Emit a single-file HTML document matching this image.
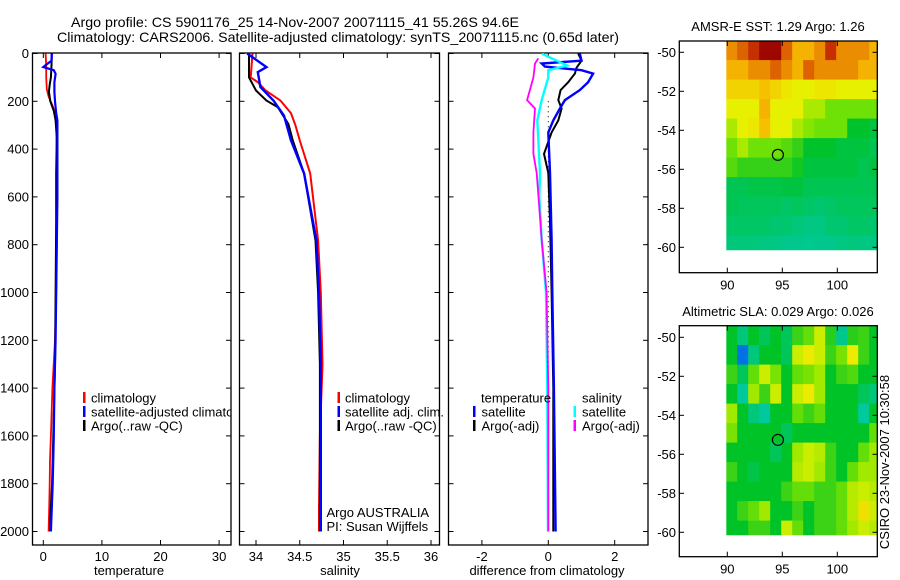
<!DOCTYPE html>
<html><head><meta charset="utf-8"><style>
html,body{margin:0;padding:0;background:#fff;}
svg{display:block;font-family:"Liberation Sans",sans-serif;}
text{font-size:13px;fill:#000;}
</style></head><body>
<svg id="fig" width="900" height="580" viewBox="0 0 900 580" xmlns="http://www.w3.org/2000/svg">
<text x="71" y="27" style="font-size:14px" textLength="448" lengthAdjust="spacingAndGlyphs">Argo profile: CS 5901176_25 14-Nov-2007 20071115_41 55.26S 94.6E</text>
<text x="57" y="42" style="font-size:14px" textLength="562" lengthAdjust="spacingAndGlyphs">Climatology: CARS2006. Satellite-adjusted climatology: synTS_20071115.nc (0.65d later)</text>
<text x="778" y="31" text-anchor="middle">AMSR-E SST: 1.29 Argo: 1.26</text>
<text x="778" y="316" text-anchor="middle">Altimetric SLA: 0.029 Argo: 0.026</text>
<text transform="translate(889,462) rotate(-90)" text-anchor="middle">CSIRO 23-Nov-2007 10:30:58</text>
<g id="plots"></g>
</svg>
<script>
// ---- profile data (depth in dbar) ----
const tClimD=[0,50,100,150,180,220,250,300,400,600,800,1000,1200,1400,1600,1700,1800,1900,2000];
const tClim=[0.4,0.5,0.5,0.6,0.9,1.6,2.0,2.2,2.3,2.3,2.3,2.2,2.0,1.55,1.3,1.15,1.1,1.0,0.9];
const tSatD=[0,30,45,57,70,85,120,160,200,250,280,400,600,800,1000,1200,1400,1600,1800,2000];
const tSat=[1.45,1.4,0.6,0.0,1.8,2.1,1.9,1.9,2.0,2.2,2.4,2.4,2.4,2.3,2.2,2.1,1.9,1.8,1.6,1.3];
const tArgoD=[0,50,100,130,160,200,240,280,350,500,700,1000,1300,1600,1800,1900,1950,2000];
const tArgo=[1.45,1.4,1.3,1.1,0.95,1.2,1.8,2.1,2.3,2.2,2.2,2.1,2.0,1.7,1.5,1.3,1.2,1.2];
const sClimD=[0,50,100,120,155,197,250,300,364,502,782,1000,1300,1600,1900,2000];
const sClim=[33.96,33.95,33.94,34.02,34.11,34.28,34.4,34.45,34.5,34.62,34.71,34.74,34.76,34.73,34.72,34.72];
const sSatD=[0,57,78,140,197,260,364,502,782,1000,1300,1600,2000];
const sSat=[33.9,34.12,34.02,34.05,34.2,34.32,34.4,34.55,34.69,34.72,34.74,34.74,34.74];
const sArgoD=[0,50,100,155,197,225,295,364,502,782,1000,1300,1600,2000];
const sArgo=[33.92,33.92,33.92,34.0,34.12,34.25,34.37,34.42,34.55,34.68,34.71,34.73,34.73,34.73];
const dTSatD=[0,30,42,55,70,84,120,153,195,230,280,330,500,780,1000,1400,2000];
const dTSat=[0.95,1.0,-0.2,-0.1,1.0,1.35,1.2,0.95,0.5,0.35,0.15,0.0,0.05,0.1,0.12,0.17,0.22];
const dTArgoD=[0,30,60,84,120,153,195,230,280,330,420,500,700,1000,1400,2000];
const dTArgo=[0.9,1.0,0.85,0.8,0.6,0.37,0.3,0.4,0.3,0.1,-0.13,0.0,0.05,0.1,0.15,0.15];
const dSSatD=[0,30,50,70,100,195,280,500,600,780,1000,1400,2000];
const dSSat=[-0.2,0.25,0.57,0.0,0.0,-0.2,-0.33,-0.25,-0.27,-0.2,-0.07,-0.03,-0.01];
const dSArgoD=[20,42,100,195,230,330,420,500,780,1000,1400,2000];
const dSArgo=[-0.3,-0.4,-0.45,-0.64,-0.4,-0.45,-0.45,-0.35,-0.2,-0.05,0.0,0.0];
const depthTicks=[0,200,400,600,800,1000,1200,1400,1600,1800,2000];
const tTicks=[0,10,20,30];
const sTicks=[34,34.5,35,35.5,36];
const dTicks=[-2,0,2];
// ---- map data (rows from -49.4 southward, 1 deg; cols from 90E) ----
const sstGrid=[
[4.5,5,5.5,6,6,5,4,4,4.5,5.5,4.5,4.5,4.5,4],
[4,4,4.5,4.5,5,4.5,4,5,4.5,4.5,4.5,4.5,4,4],
[3.5,3.5,3.5,3.8,3.5,3.2,3,3,3.2,3.2,3,3,3,3],
[3,3,3,4,3,3,3,2.5,2.5,2,2,2,2,2],
[2.5,3,3.2,3.8,3,3,2.5,2.2,2,2,2,1,1,0.8],
[2,2.5,2,2,2,1.8,1.5,1,1,1,0.8,0.8,0.8,0.6],
[1.8,1.5,1.5,1.5,1.5,1.5,1.2,0.8,0.8,0.8,0.8,0.8,0.6,0.8],
[0.6,0.6,0.7,0.7,0.7,0.8,0.8,0.6,0.6,0.6,0.6,0.6,0.6,0.6],
[0.6,0.5,0.5,0.5,0.5,0.4,0.5,0.4,0.3,0.4,0.5,0.5,0.5,0.5],
[0.4,0.4,0.4,0.4,0.3,0.3,0.2,0.1,0.1,0.3,0.3,0.4,0.4,0.3],
[0.2,0.2,0.2,0.1,0.1,0,0,-0.1,0,0,0.1,0.2,0.1,0.1]];
const slaGrid=[
[0,-0.5,0,-0.3,0,-0.3,0.3,0.5,1.0,0.2,-0.6,0.2,0.3,0],
[0,-2,-0.5,0,0,-0.3,1.0,1.2,1.0,0.3,0.6,1.2,0.3,0],
[0.3,-0.3,0.5,1.0,0.6,0,0.5,0.6,0.8,0,0.3,0.4,0,0],
[0,-0.8,0.8,0.3,1.0,0,1.0,1.2,0.8,0,0,0,-0.3,-0.5],
[0.8,0,-0.5,-0.8,0,0,0.5,0.3,0.5,0,0,0,-0.8,0],
[0.6,0,0,0,0,-0.3,0,0,0,0,0,0,0,0.5],
[0,0,0,0,-0.3,0,0.8,1.0,0.9,0.3,0,0,0.5,0.8],
[0.3,0,-0.2,0,0,0,0.9,1.0,0.8,0.3,0,0.5,0.8,0.8],
[0,0,0,0,0,0.3,0.5,0.5,0.3,0.3,0.5,0.9,1.0,0.9],
[0,0.3,0.5,0.8,0,0,0.3,0,0.3,0.3,0.5,0.9,1.3,1.0],
[0,0,0.3,0.3,0,1.0,0.5,0,0.3,0.3,0.5,0.8,1.0,0.9]];
const latTicks=[-50,-52,-54,-56,-58,-60];
const lonTicks=[90,95,100];
const argoLon=94.6, argoLat=-55.26;

const NS='http://www.w3.org/2000/svg';
const root=document.getElementById('plots');
function mk(tag,attrs,parent){const e=document.createElementNS(NS,tag);for(const k in attrs)e.setAttribute(k,attrs[k]);(parent||root).appendChild(e);return e;}
function txt(x,y,s,anchor,parent){const e=mk('text',{x:x,y:y,'text-anchor':anchor||'start'},parent);e.textContent=s;return e;}

const TOP=53, BOT=545;
function yD(d){return 53.5+d*0.239;}
const panels=[
 {name:'temperature',x0:32.5,x1:231,f:v=>43.3+v*5.86,ticks:tTicks,lbl:'temperature',lx:129},
 {name:'salinity',x0:239.5,x1:439.5,f:v=>256+(v-34)*87.5,ticks:sTicks,lbl:'salinity',lx:340},
 {name:'difference',x0:448.5,x1:648,f:v=>548.3+v*33.2,ticks:dTicks,lbl:'difference from climatology',lx:547}
];
panels.forEach((p,i)=>{
  const g=mk('g',{});
  
  
  const cid='clip'+i;
  const cp=mk('clipPath',{id:cid},g);mk('rect',{x:p.x0,y:TOP,width:p.x1-p.x0,height:BOT-TOP},cp);
  const frame=mk('rect',{x:p.x0,y:TOP,width:p.x1-p.x0,height:BOT-TOP,fill:'none',stroke:'#000','stroke-width':1.3},g);
  
  
  depthTicks.forEach(d=>{
    const y=yD(d);
    mk('line',{x1:p.x0,x2:p.x0+5,y1:y,y2:y,stroke:'#000'},g);
    mk('line',{x1:p.x1-5,x2:p.x1,y1:y,y2:y,stroke:'#000'},g);
    if(i===0){const t=txt(29,y+4.5,String(d),'end',g);
      
      }
  });
  p.ticks.forEach(v=>{
    const x=p.f(v);
    mk('line',{x1:x,x2:x,y1:BOT,y2:BOT-5,stroke:'#000'},g);
    mk('line',{x1:x,x2:x,y1:TOP,y2:TOP+5,stroke:'#000'},g);
    const t=txt(x,561,String(v),'middle',g);
    
    
  });
  const xl=txt(p.lx,575,p.lbl,'middle',g);
  
  
  p.g=g;p.clip=cid;
});
function line(p,D,V,color,w,name){
  const pts=D.map((d,k)=>p.f(V[k]).toFixed(1)+','+yD(d).toFixed(1)).join(' ');
  const e=mk('polyline',{points:pts,fill:'none',stroke:color,'stroke-width':w,'clip-path':'url(#'+p.clip+')'},p.g);
  
  
}
const [P1,P2,P3]=panels;
line(P1,tClimD,tClim,'#f00',1.8,'temperature-climatology-line');
line(P1,tArgoD,tArgo,'#000',2,'temperature-argo-line');
line(P1,tSatD,tSat,'#00f',2.2,'temperature-satellite-line');
line(P2,sClimD,sClim,'#f00',2,'salinity-climatology-line');
line(P2,sArgoD,sArgo,'#000',2,'salinity-argo-line');
line(P2,sSatD,sSat,'#00f',2.4,'salinity-satellite-line');
const zl=mk('line',{x1:P3.f(0),x2:P3.f(0),y1:yD(200),y2:yD(2000),stroke:'#000','stroke-width':1,'stroke-dasharray':'1 4'},P3.g);


line(P3,dTArgoD,dTArgo,'#000',2,'temp-diff-argo-line');
line(P3,dTSatD,dTSat,'#00f',2.4,'temp-diff-satellite-line');
line(P3,dSSatD,dSSat,'#0ff',2.4,'sal-diff-satellite-line');
line(P3,dSArgoD,dSArgo,'#f0f',1.8,'sal-diff-argo-line');

function legendRow(g,bx,tx,y,color,label,name,clip){
  const b=mk('rect',{x:bx,y:y-6,width:2.5,height:11,fill:color},g);
  
  
  const t=txt(tx,y+4.5,label,'start',g);
  if(clip)t.setAttribute('clip-path','url(#'+clip+')');
  
  
}
legendRow(P1.g,83,91,398,'#f00','climatology','legend-climatology');
legendRow(P1.g,83,91,412,'#00f','satellite-adjusted climatology','legend-satellite-adjusted',P1.clip);
legendRow(P1.g,83,91,426,'#000','Argo(..raw -QC)','legend-argo');
legendRow(P2.g,337.5,345,398,'#f00','climatology','legend-climatology');
legendRow(P2.g,337.5,345,412,'#00f','satellite adj. clim.','legend-satellite-adj');
legendRow(P2.g,337.5,345,426,'#000','Argo(..raw -QC)','legend-argo');
let h1=txt(481,402.5,'temperature','start',P3.g);


let h2=txt(582,402.5,'salinity','start',P3.g);


legendRow(P3.g,473,481.5,412,'#00f','satellite','legend-temp-satellite');
legendRow(P3.g,473,481.5,426,'#000','Argo(-adj)','legend-temp-argo');
legendRow(P3.g,573.5,582,412,'#0ff','satellite','legend-sal-satellite');
legendRow(P3.g,573.5,582,426,'#f0f','Argo(-adj)','legend-sal-argo');
let a1=txt(326.5,517,'Argo AUSTRALIA','start',P2.g);


let a2=txt(326.5,531,'PI: Susan Wijffels','start',P2.g);



// ---- maps ----
const stops=[[0,[0,100,230]],[0.15,[0,205,205]],[0.3,[0,200,140]],[0.42,[0,195,40]],[0.55,[130,230,0]],[0.65,[235,240,0]],[0.75,[245,185,0]],[0.85,[230,120,0]],[0.93,[200,50,0]],[1,[150,0,0]]];
function cmap(t){t=Math.max(0,Math.min(1,t));for(let k=1;k<stops.length;k++){if(t<=stops[k][0]){const a=stops[k-1],b=stops[k];const u=(t-a[0])/(b[0]-a[0]);const c=a[1].map((v,j)=>Math.round(v+(b[1][j]-v)*u));return 'rgb('+c.join(',')+')';}}return 'rgb(150,0,0)';}
function drawMap(name,y50,boxTop,boxBot,grid,tf){
  const g=mk('g',{});
  
  
  const lx=v=>727.3+(v-90)*11, ly=v=>y50+(-50-v)*19.5;
  const cid=name+'-clip';
  const cp=mk('clipPath',{id:cid},g);mk('rect',{x:lx(89.9),y:boxTop,width:877.3-lx(89.9),height:ly(-60.15)-boxTop},cp);
  const cg=mk('g',{'clip-path':'url(#'+cid+')'},g);
  grid.forEach((row,r)=>row.forEach((v,c)=>{
    const x=lx(89.9+c), y=ly(-49.4-r);
    const cell=mk('rect',{x:x.toFixed(1),y:y.toFixed(1),width:11.6,height:20.1,fill:cmap(tf(v))},cg);
    
    
  }));
  const box=mk('rect',{x:679.3,y:boxTop,width:198,height:boxBot-boxTop,fill:'none',stroke:'#000','stroke-width':1.3},g);
  
  
  latTicks.forEach(v=>{const y=ly(v);
    mk('line',{x1:679.3,x2:684,y1:y,y2:y,stroke:'#000'},g);
    mk('line',{x1:872.5,x2:877.3,y1:y,y2:y,stroke:'#000'},g);
    const t=txt(676,y+4.5,String(v),'end',g);
    
    });
  lonTicks.forEach(v=>{const x=lx(v);
    mk('line',{x1:x,x2:x,y1:boxTop,y2:boxTop+5,stroke:'#000'},g);
    mk('line',{x1:x,x2:x,y1:boxBot,y2:boxBot-5,stroke:'#000'},g);
    const t=txt(x,boxBot+17,String(v),'middle',g);
    
    });
  const c=mk('circle',{cx:lx(argoLon),cy:ly(argoLat),r:5.5,fill:'none',stroke:'#000','stroke-width':1.2},g);
  
  
}
drawMap('sst-map',52.3,41,272.7,sstGrid,v=>0.3+v*0.115);
drawMap('sla-map',337.3,325.7,556.7,slaGrid,v=>0.42+v*0.2);
</script>
</body></html>
